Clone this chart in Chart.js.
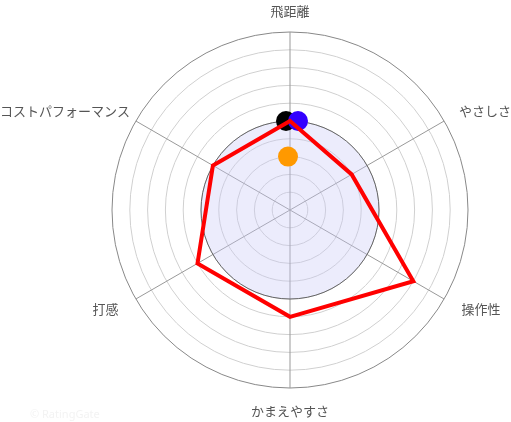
<!DOCTYPE html>
<html>
<head>
<meta charset="utf-8">
<script src="https://cdn.jsdelivr.net/npm/chart.js@4/dist/chart.umd.min.js"></script>
<style>
  html, body { margin: 0; padding: 0; background: #fff; overflow: hidden; }
  #wrap { position: relative; width: 511px; height: 422px; }
  #radar { display: block; }
  #mark { position: absolute; left: 30px; top: 406px; font: 11px "Noto Sans", sans-serif; color: #f3f3f3; }
</style>
</head>
<body>
<div id="wrap">
  <canvas id="radar" width="511" height="422"></canvas>
  <div id="mark">© RatingGate</div>
</div>
<script>
const labels = ['飛距離', 'やさしさ', '操作性', 'かまえやすさ', '打感', 'コストパフォーマンス'];
const ratings = [5, 4, 8, 6, 6, 5];
const average = 5;
const blueDot = [5, null, null, null, null, null];
const blackDot = [5, null, null, null, null, null];
const orangeDot = [3, null, null, null, null, null];

// shaded average circle drawn through the radial scale
const avgCircle = {
  id: 'avgCircle',
  beforeDatasetsDraw(chart) {
    const r = chart.scales.r;
    const ctx = chart.ctx;
    ctx.save();
    ctx.beginPath();
    ctx.arc(r.xCenter, r.yCenter, r.getDistanceFromCenterForValue(average), 0, Math.PI * 2);
    ctx.fillStyle = 'rgba(200,200,245,0.35)';
    ctx.fill();
    ctx.strokeStyle = '#666';
    ctx.lineWidth = 1;
    ctx.stroke();
    ctx.restore();
  }
};

// axis labels just outside the outer ring, kept inside the canvas
const axisLabels = {
  id: 'axisLabels',
  afterDraw(chart) {
    const r = chart.scales.r;
    const ctx = chart.ctx;
    ctx.save();
    ctx.font = '13px "Noto Sans CJK JP", sans-serif';
    ctx.fillStyle = '#555';
    ctx.textAlign = 'left';
    chart.data.labels.forEach((lab, i) => {
      const axis = r.getPointPosition(i, r.drawingArea);
      const w = ctx.measureText(lab).width;
      const vertical = Math.abs(axis.x - r.xCenter) < 1;
      let x, y;
      if (vertical) {
        const p = r.getPointPosition(i, r.drawingArea + (axis.y < r.yCenter ? 14 : 17));
        x = p.x - w / 2;
        ctx.textBaseline = axis.y < r.yCenter ? 'bottom' : 'top';
        y = p.y;
      } else {
        const p = r.getPointPosition(i, r.drawingArea + 20);
        x = p.x > r.xCenter ? p.x : p.x - w;
        ctx.textBaseline = 'middle';
        y = p.y;
      }
      x = Math.max(0, Math.min(chart.width - w, x));
      ctx.fillText(lab, x, y);
    });
    ctx.restore();
  }
};

// small sideways nudge of the marker dots so they don't overlap
const nudge = {
  id: 'nudge',
  afterDatasetsUpdate(chart) {
    chart.data.datasets.forEach((ds, i) => {
      if (!ds.dx) return;
      chart.getDatasetMeta(i).data.forEach(p => { p.x += ds.dx; });
    });
  }
};

new Chart(document.getElementById('radar'), {
  type: 'radar',
  data: {
    labels,
    datasets: [
      { data: orangeDot, showLine: false, pointRadius: 10, pointHoverRadius: 10, pointBackgroundColor: '#ff9900', pointBorderWidth: 0, dx: -2 },
      { data: ratings, borderColor: '#ff0000', borderWidth: 4, fill: false, pointRadius: 0, backgroundColor: 'transparent' },
      { data: blueDot, showLine: false, pointRadius: 10, pointHoverRadius: 10, pointBackgroundColor: '#3300ff', pointBorderWidth: 0, dx: 8 },
      { data: blackDot, showLine: false, pointRadius: 10, pointHoverRadius: 10, pointBackgroundColor: '#000', pointBorderWidth: 0, dx: -4 }
    ]
  },
  options: {
    responsive: false,
    animation: false,
    layout: { padding: { left: 100, right: 31, top: 32, bottom: 34 } },
    plugins: { legend: { display: false }, tooltip: { enabled: false } },
    scales: {
      r: {
        min: 0, max: 10,
        ticks: { display: false, stepSize: 1 },
        grid: { circular: true, color: c => c.index === 10 ? '#888' : '#d0d0d0' },
        angleLines: { color: '#999' },
        pointLabels: { display: false }
      }
    }
  },
  plugins: [avgCircle, nudge, axisLabels]
});
</script>
</body>
</html>
